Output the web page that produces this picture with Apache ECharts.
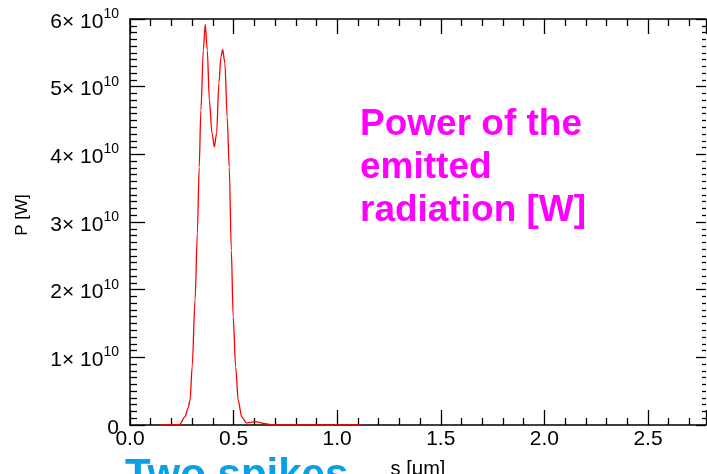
<!DOCTYPE html>
<html>
<head>
<meta charset="utf-8">
<script src="https://cdn.jsdelivr.net/npm/echarts@6/dist/echarts.min.js"></script>
<style>
html,body{margin:0;padding:0;background:#fff;}
#chart{width:707px;height:474px;}
</style>
</head>
<body>
<div id="chart"></div>
<script>
// s in micrometres
var sValues = [0.15, 0.20, 0.24, 0.265, 0.28, 0.29, 0.30, 0.314, 0.325, 0.334, 0.342, 0.354, 0.363, 0.373, 0.383, 0.396, 0.407, 0.418, 0.429, 0.439, 0.447, 0.458, 0.469, 0.479, 0.489, 0.498, 0.51, 0.522, 0.539, 0.563, 0.585, 0.603, 0.625, 0.643, 0.69, 0.8, 1.0, 1.12];
// power in units of 1e10 W
var pValues = [0, 0, 0.01, 0.12, 0.25, 0.37, 0.86, 1.85, 2.83, 3.81, 4.65, 5.54, 5.92, 5.54, 4.80, 4.31, 4.11, 4.31, 5.05, 5.44, 5.55, 5.35, 4.55, 3.81, 2.58, 1.60, 0.86, 0.37, 0.12, 0.03, 0.04, 0.05, 0.04, 0.025, 0, 0, 0, 0];
var xTickLabels = ['0.0', '0.5', '1.0', '1.5', '2.0', '2.5'];
var yTickMantissas = [0, 1, 2, 3, 4, 5, 6];
var annotationLines = ['Power of the', 'emitted', 'radiation [W]'];
var bottomNote = 'Two spikes';

var FONT = '"Liberation Sans", Arial, sans-serif';
var data = sValues.map(function (s, i) { return [s, pValues[i] * 1e10]; });

var chart = echarts.init(document.getElementById('chart'));
function axisLine(show) {
  return { show: show, onZero: false, lineStyle: { color: '#000', width: 1.5 } };
}
var tickStyle = { color: '#000', width: 1.3 };
chart.setOption({
  backgroundColor: '#fff',
  animation: false,
  grid: { left: 130, top: 19, right: 1, bottom: 49, outerBoundsMode: 'none', containLabel: false },
  xAxis: [
    {
      type: 'value', min: 0, max: 2.78, interval: 0.5, position: 'bottom',
      axisLine: axisLine(true), splitLine: { show: false },
      axisTick: { inside: true, length: 15, lineStyle: tickStyle },
      minorTick: { show: true, splitNumber: 5, length: 7, lineStyle: tickStyle },
      axisLabel: {
        margin: 4, fontSize: 21, color: '#000', fontFamily: FONT,
        formatter: function (v) { var i = Math.round(v / 0.5); return xTickLabels[i] || ''; }
      },
      name: 's [\u03bcm]', nameLocation: 'middle', nameGap: 34,
      nameTextStyle: { fontSize: 20, color: '#000', fontFamily: FONT }
    },
    {
      type: 'value', min: 0, max: 2.78, interval: 0.5, position: 'top',
      axisLine: axisLine(true), splitLine: { show: false },
      axisTick: { inside: true, length: 15, lineStyle: tickStyle },
      minorTick: { show: true, splitNumber: 5, length: 7, lineStyle: tickStyle },
      axisLabel: { show: false }
    }
  ],
  yAxis: [
    {
      type: 'value', min: 0, max: 6e10, interval: 1e10, position: 'left',
      axisLine: axisLine(true), splitLine: { show: false },
      axisTick: { inside: true, length: 15, lineStyle: tickStyle },
      minorTick: { show: true, splitNumber: 10, length: 7, lineStyle: tickStyle },
      axisLabel: {
        margin: 11, color: '#000', fontFamily: FONT, fontSize: 21,
        formatter: function (v) {
          var m = Math.round(v / 1e10);
          if (m === 0) return '{n|0}';
          return '{n|' + yTickMantissas[m] + '\u00d7 10}{sup|10}';
        },
        rich: {
          n: { fontSize: 21, fontFamily: FONT, color: '#000', padding: [6, 0, 0, 0] },
          sup: { fontSize: 14, fontFamily: FONT, color: '#000', padding: [0, 0, 10, 0] }
        }
      },
      name: 'P [W]', nameLocation: 'middle', nameGap: 99, nameRotate: 90,
      nameTextStyle: { fontSize: 17, color: '#000', fontFamily: FONT, padding: [0, 0, 0, 14] }
    },
    {
      type: 'value', min: 0, max: 6e10, interval: 1e10, position: 'right',
      axisLine: axisLine(false), splitLine: { show: false },
      axisTick: { inside: true, length: 10, lineStyle: tickStyle },
      minorTick: { show: true, splitNumber: 10, length: 4, lineStyle: tickStyle },
      axisLabel: { show: false }
    }
  ],
  series: [{
    type: 'line', xAxisIndex: 0, yAxisIndex: 0, data: data,
    showSymbol: false, smooth: 0.3, smoothMonotone: 'x',
    lineStyle: { color: '#ff0000', width: 1.3 }, z: 3
  }],
  graphic: [
    {
      type: 'text', left: 360, top: 103,
      style: {
        text: annotationLines.join('\n'), fill: '#ff00ff',
        font: 'bold 37px ' + FONT, lineHeight: 43
      }
    },
    {
      type: 'text', left: 125, top: 455,
      style: { text: bottomNote, fill: '#0aa0e6', font: 'bold 42px ' + FONT }
    }
  ]
});
</script>
</body>
</html>
